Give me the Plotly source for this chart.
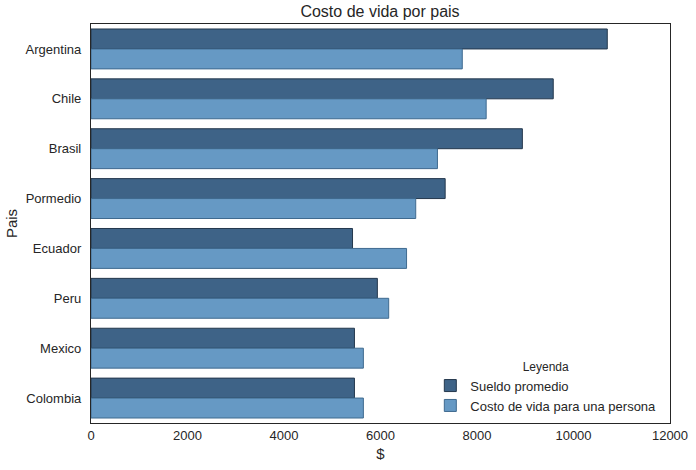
"""
Costo de vida por pais - grouped horizontal bar chart
"""

import plotly.graph_objects as go

# data
paises = ["Argentina", "Chile", "Brasil", "Pormedio", "Ecuador", "Peru", "Mexico", "Colombia"]
sueldo_promedio = [10700, 9580, 8940, 7340, 5420, 5935, 5460, 5460]
costo_de_vida = [7695, 8190, 7180, 6730, 6540, 6170, 5645, 5645]
x_ticks = [0, 2000, 4000, 6000, 8000, 10000, 12000]

TEXT = "#262626"
FONT = "Liberation Sans, Arial, sans-serif"

fig = go.Figure()
fig.add_trace(go.Bar(
    y=paises, x=sueldo_promedio, orientation="h",
    name="Sueldo promedio",
    marker=dict(color="#3e6387", line=dict(color="#24384d", width=1)),
))
fig.add_trace(go.Bar(
    y=paises, x=costo_de_vida, orientation="h",
    name="Costo de vida para una persona",
    marker=dict(color="#6699c4", line=dict(color="#3f6a8f", width=1)),
))

fig.update_layout(
    width=696, height=470,
    margin=dict(l=91, r=26, t=24, b=47, autoexpand=False),
    paper_bgcolor="white", plot_bgcolor="white",
    font=dict(family=FONT, size=13, color=TEXT),
    barmode="group", bargap=0.2, bargroupgap=0,
    title=dict(text="Costo de vida por pais", x=0.546, xanchor="center",
               y=0.975, yanchor="middle", font=dict(size=16, color=TEXT)),
    legend=dict(
        x=0.985, xanchor="right", y=0.005, yanchor="bottom",
        bgcolor="rgba(0,0,0,0)", borderwidth=0,
        title=dict(text="Leyenda", side="top center", font=dict(size=12)),
        font=dict(size=13), tracegroupgap=0,
        traceorder="normal",
    ),
)

fig.update_xaxes(
    range=[0, 12000], tickvals=x_ticks, ticktext=[str(t) for t in x_ticks],
    showgrid=False, zeroline=False, ticks="", automargin=False,
    showline=True, linecolor=TEXT, linewidth=1.25, mirror=True,
    title=dict(text="$", standoff=6, font=dict(size=15)),
)
fig.update_yaxes(
    autorange="reversed", showgrid=False, zeroline=False, ticks="",
    ticklabelstandoff=6, automargin=False,
    showline=True, linecolor=TEXT, linewidth=1.25, mirror=True,
    title=dict(text="Pais", standoff=4, font=dict(size=15)),
)

# the page's default body margin would shift the figure by 8px
fig.write_html("out.html", config={"displayModeBar": False},
               post_script="document.body.style.margin = '0';")
